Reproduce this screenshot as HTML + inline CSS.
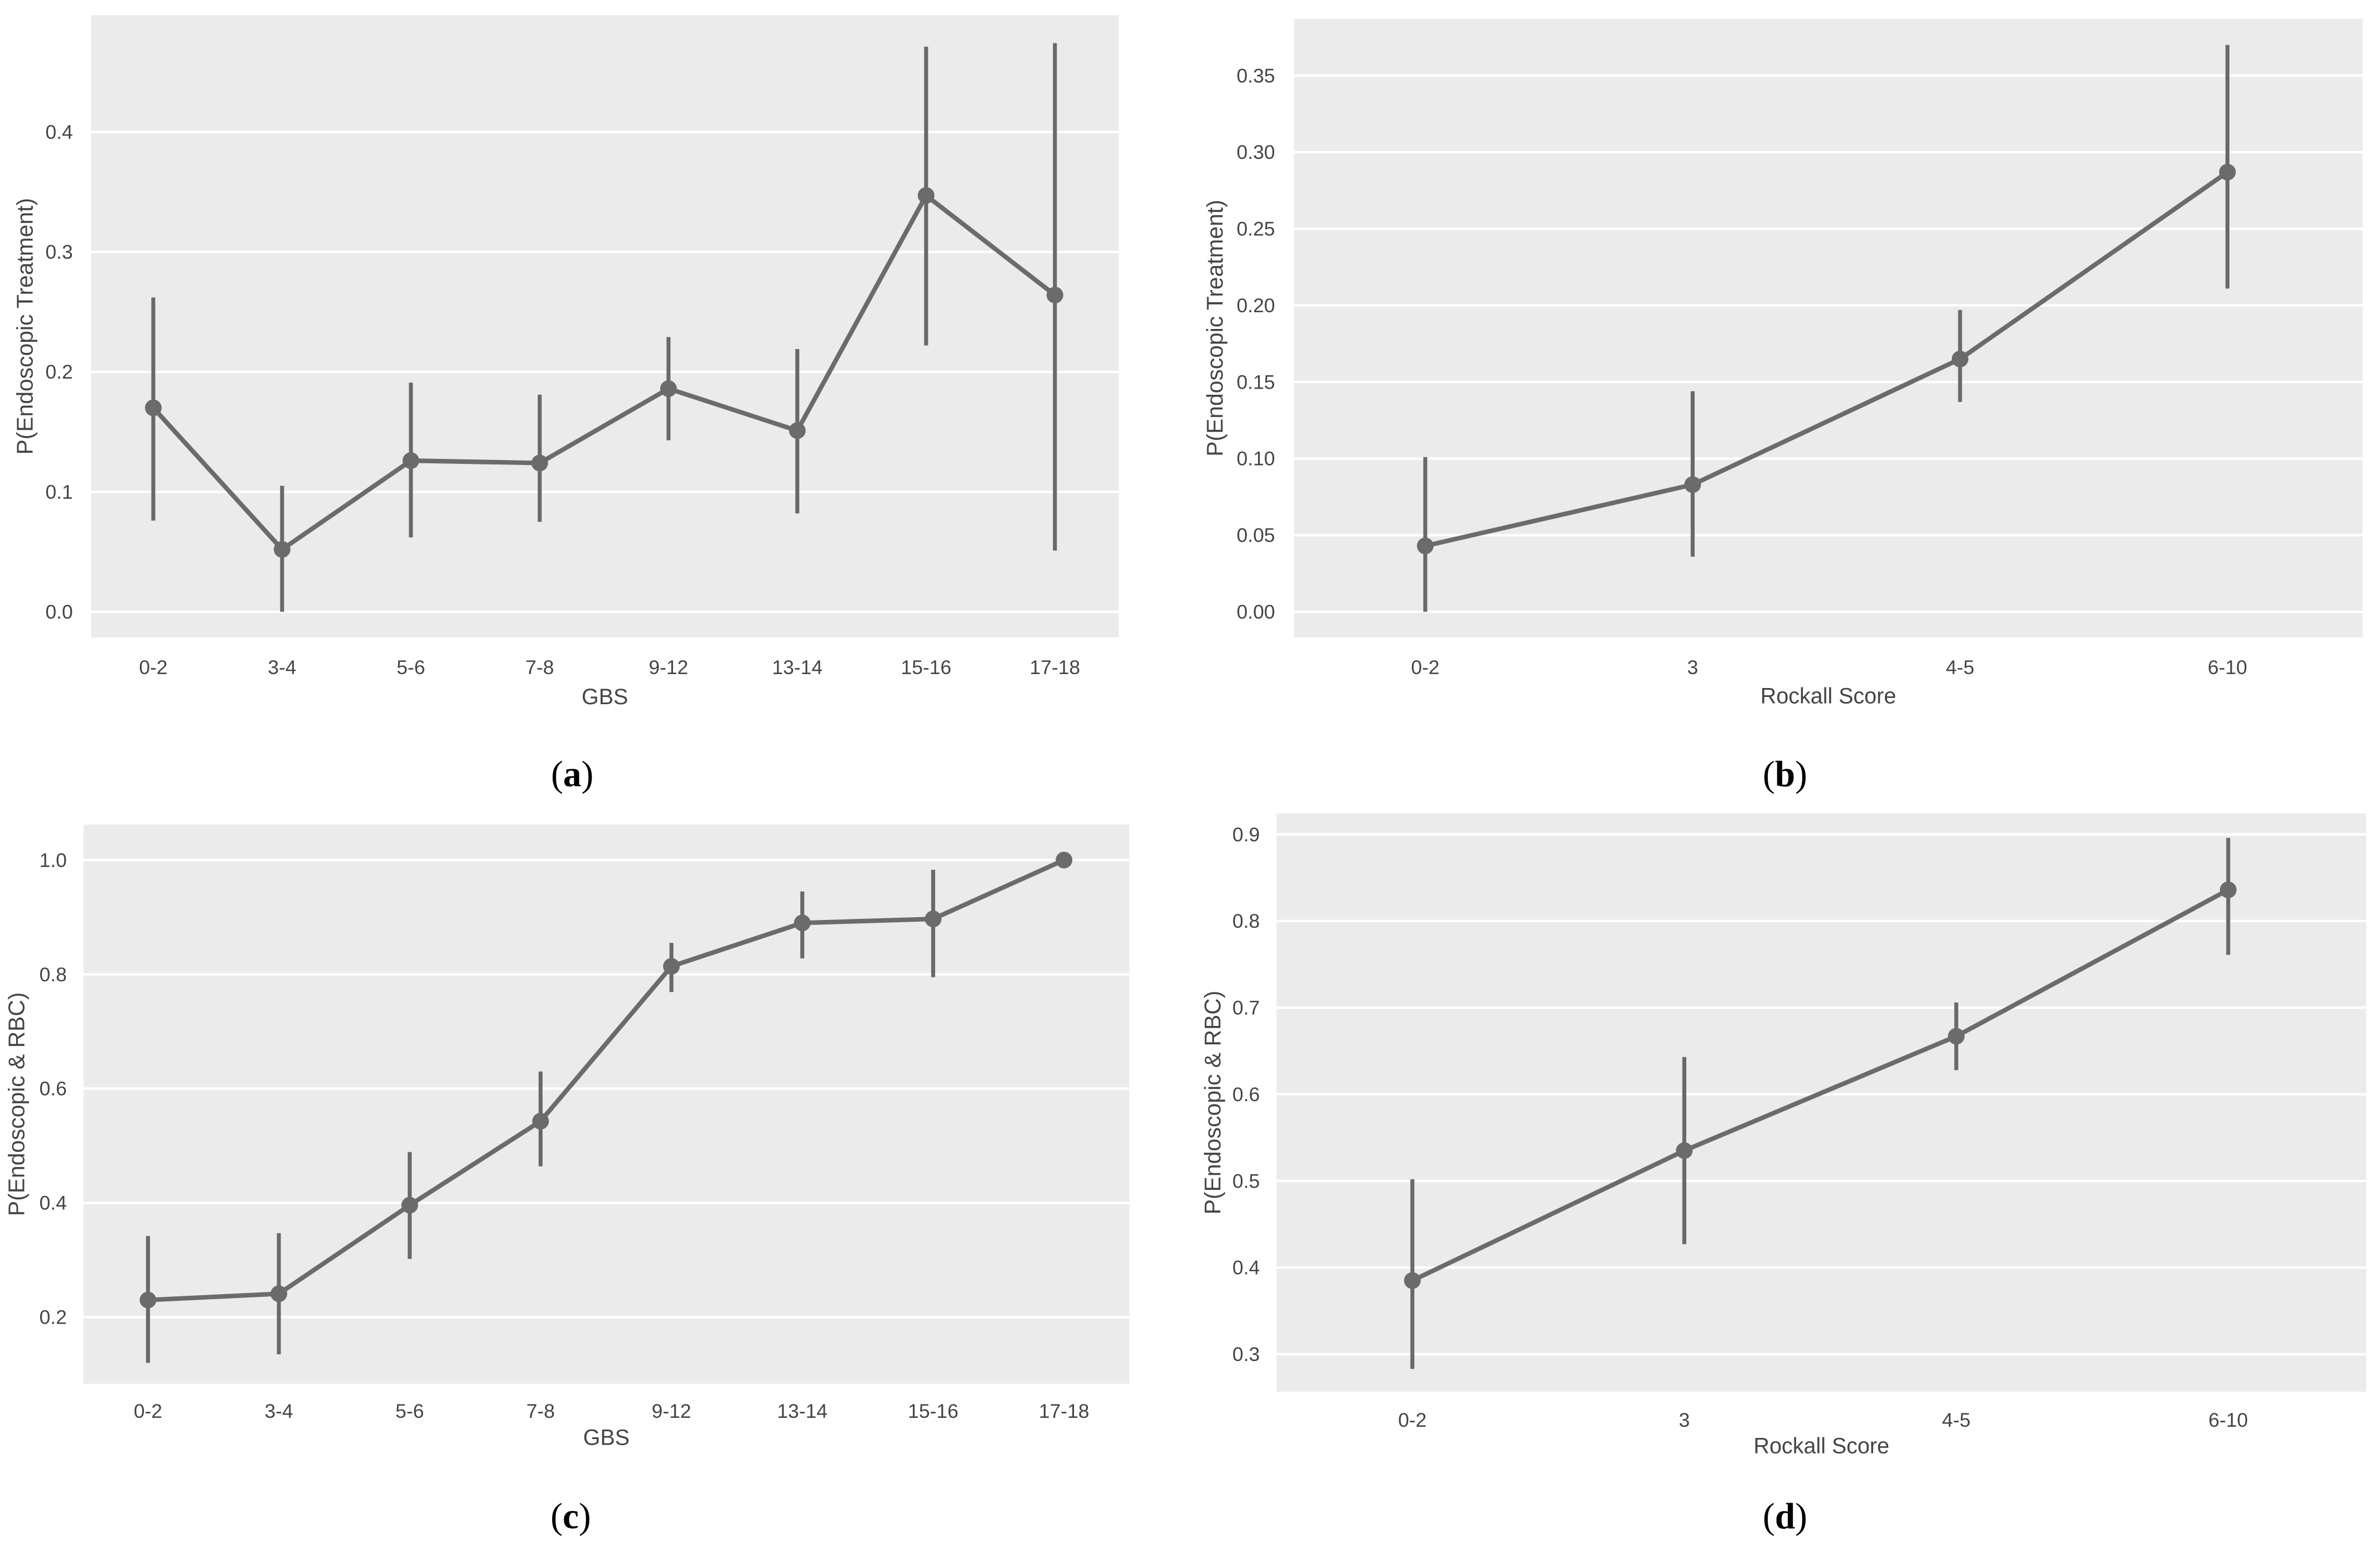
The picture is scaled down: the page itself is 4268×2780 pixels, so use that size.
<!DOCTYPE html>
<html><head><meta charset="utf-8">
<style>
html,body{margin:0;padding:0;background:#fff;}
svg{display:block;}
text{font-family:"Liberation Sans",sans-serif;fill:#444;}
.cap{font-family:"Liberation Serif",serif;fill:#000;font-size:24px;}
</style></head>
<body>
<svg id="fig" width="4268" height="2780" viewBox="0 0 1568 1021.3" xmlns="http://www.w3.org/2000/svg">
<rect width="1568" height="1021.3" fill="#fff"/>
</svg>
<script>
// Panel a
const catsA = ["0-2","3-4","5-6","7-8","9-12","13-14","15-16","17-18"];
const valsA = [0.170,0.052,0.126,0.124,0.186,0.151,0.347,0.264];
const loA = [0.076,0.000,0.062,0.075,0.143,0.082,0.222,0.051];
const hiA = [0.262,0.105,0.191,0.181,0.229,0.219,0.471,0.474];
const ticksA = [0.0,0.1,0.2,0.3,0.4];
const tickLabelsA = ["0.0","0.1","0.2","0.3","0.4"];
// Panel b
const catsB = ["0-2","3","4-5","6-10"];
const valsB = [0.043,0.083,0.165,0.287];
const loB = [0.000,0.036,0.137,0.211];
const hiB = [0.101,0.144,0.197,0.370];
const ticksB = [0,0.05,0.10,0.15,0.20,0.25,0.30,0.35];
const tickLabelsB = ["0.00","0.05","0.10","0.15","0.20","0.25","0.30","0.35"];
// Panel c
const catsC = ["0-2","3-4","5-6","7-8","9-12","13-14","15-16","17-18"];
const valsC = [0.230,0.241,0.396,0.543,0.814,0.890,0.897,1.000];
const loC = [0.120,0.135,0.302,0.464,0.769,0.828,0.795,1.000];
const hiC = [0.342,0.347,0.489,0.630,0.855,0.945,0.983,1.000];
const ticksC = [0.2,0.4,0.6,0.8,1.0];
const tickLabelsC = ["0.2","0.4","0.6","0.8","1.0"];
// Panel d
const catsD = ["0-2","3","4-5","6-10"];
const valsD = [0.385,0.535,0.667,0.836];
const loD = [0.283,0.427,0.628,0.761];
const hiD = [0.502,0.643,0.706,0.896];
const ticksD = [0.3,0.4,0.5,0.6,0.7,0.8,0.9];
const tickLabelsD = ["0.3","0.4","0.5","0.6","0.7","0.8","0.9"];

const NS="http://www.w3.org/2000/svg";
const svg=document.getElementById('fig');
function mk(tag,attrs,parent){const e=document.createElementNS(NS,tag);for(const k in attrs)e.setAttribute(k,attrs[k]);(parent||svg).appendChild(e);return e;}

function panel(id,cfg,cats,vals,lo,hi,ticks,tickLabels){
  const g=mk('g',{});
  
  
  const bg=mk('rect',{x:cfg.x0,y:cfg.y0,width:cfg.x1-cfg.x0,height:cfg.y1-cfg.y0,fill:'#ebebeb'},g);
  
  
  const y=v=>cfg.gy0+(v-cfg.v0)*(cfg.gy1-cfg.gy0)/(cfg.v1-cfg.v0);
  const x=i=>cfg.cx0+i*(cfg.cx1-cfg.cx0)/(cats.length-1);
  ticks.forEach((t,i)=>{
    const ln=mk('line',{x1:cfg.x0,x2:cfg.x1,y1:y(t),y2:y(t),stroke:'#fff','stroke-width':1.6},g);
    
    
    const tx=mk('text',{x:cfg.tickR,y:y(t)+4.5,'text-anchor':'end','font-size':13},g);
    tx.textContent=tickLabels[i];
    
    
  });
  cats.forEach((c,i)=>{
    const tx=mk('text',{x:x(i),y:cfg.xlabY+4.5,'text-anchor':'middle','font-size':13},g);
    tx.textContent=c;
    
    
  });
  const xt=mk('text',{x:(cfg.x0+cfg.x1)/2,y:cfg.xtitleY+5,'text-anchor':'middle','font-size':14.5},g);
  xt.textContent=cfg.xtitle;
  
  
  const yt=mk('text',{x:0,y:0,'text-anchor':'middle','font-size':15,transform:`translate(${cfg.ytitleX+5},${(cfg.y0+cfg.y1)/2}) rotate(-90)`},g);
  yt.textContent=cfg.ytitle;
  
  
  cats.forEach((c,i)=>{
    if(hi[i]>lo[i]){
      const eb=mk('line',{x1:x(i),x2:x(i),y1:y(lo[i]),y2:y(hi[i]),stroke:'#696969','stroke-width':2.6},g);
      
      
    }
  });
  const pts=vals.map((v,i)=>x(i)+','+y(v)).join(' ');
  const pl=mk('polyline',{points:pts,fill:'none',stroke:'#6b6b6b','stroke-width':3,'stroke-linejoin':'round'},g);
  
  
  vals.forEach((v,i)=>{
    const c=mk('circle',{cx:x(i),cy:y(v),r:5.5,fill:'#6b6b6b'},g);
    
    
  });
  const cap=mk('text',{x:cfg.capX,y:cfg.capY+8,'text-anchor':'middle','class':'cap'},g);
  
  
  const t1=mk('tspan',{},cap); t1.textContent='(';
  const t2=mk('tspan',{'font-weight':'bold'},cap); t2.textContent=cfg.cap;
  const t3=mk('tspan',{},cap); t3.textContent=')';
}

panel('a',{x0:60,x1:737,y0:10,y1:420,gy0:403.1,gy1:86.9,v0:0,v1:0.4,cx0:101,cx1:695,tickR:48,xlabY:439.6,xtitleY:459,ytitleX:16.5,xtitle:'GBS',ytitle:'P(Endoscopic Treatment)',capX:377,capY:510,cap:'a'},catsA,valsA,loA,hiA,ticksA,tickLabelsA);
panel('b',{x0:852.5,x1:1556.5,y0:12.4,y1:420,gy0:403.1,gy1:49.8,v0:0,v1:0.35,cx0:939,cx1:1467.5,tickR:840,xlabY:439.6,xtitleY:458.4,ytitleX:800.5,xtitle:'Rockall Score',ytitle:'P(Endoscopic Treatment)',capX:1176,capY:510,cap:'b'},catsB,valsB,loB,hiB,ticksB,tickLabelsB);
panel('c',{x0:55,x1:744,y0:543.3,y1:911.8,gy0:867.9,gy1:566.7,v0:0.2,v1:1.0,cx0:97.5,cx1:701,tickR:44,xlabY:929.8,xtitleY:947,ytitleX:11,xtitle:'GBS',ytitle:'P(Endoscopic & RBC)',capX:376,capY:999,cap:'c'},catsC,valsC,loC,hiC,ticksC,tickLabelsC);
panel('d',{x0:841,x1:1559,y0:536,y1:917,gy0:892.3,gy1:549.8,v0:0.3,v1:0.9,cx0:930.5,cx1:1468,tickR:830,xlabY:935.6,xtitleY:952.5,ytitleX:799,xtitle:'Rockall Score',ytitle:'P(Endoscopic & RBC)',capX:1176,capY:999,cap:'d'},catsD,valsD,loD,hiD,ticksD,tickLabelsD);
</script>
</body></html>
